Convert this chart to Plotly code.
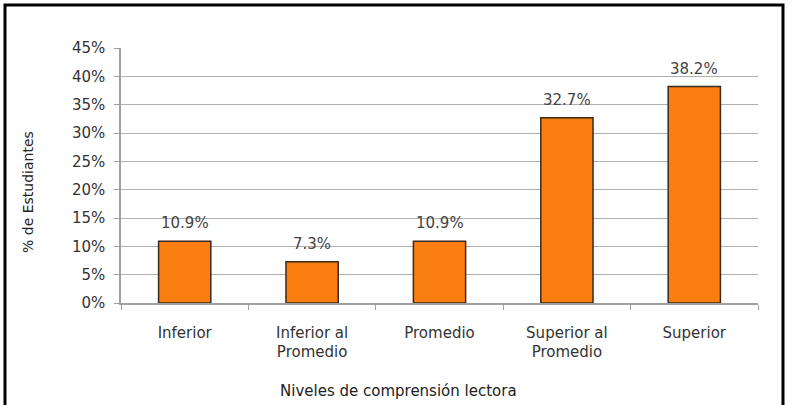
import plotly.graph_objects as go

categories = ["Inferior", "Inferior al<br>Promedio", "Promedio", "Superior al<br>Promedio", "Superior"]
values = [10.9, 7.3, 10.9, 32.7, 38.2]
labels = ["10.9%", "7.3%", "10.9%", "32.7%", "38.2%"]
y_ticks = [0, 5, 10, 15, 20, 25, 30, 35, 40, 45]
y_ticktext = [f"{t}%" for t in y_ticks]

L, R, T, B = 121, 41, 48, 102
W, H = 799, 405
pw, ph = W - L - R, H - T - B
FONT = "DejaVu Sans, Liberation Sans, Arial"

def px(x):
    return (x - L) / pw

def py(y):
    return (H - B - y) / ph

fig = go.Figure(go.Bar(
    x=categories, y=values,
    marker=dict(color="#FA7D10", line=dict(color="#3a2a1a", width=1.5)),
    width=0.41,
))

annotations = [
    dict(x=c, y=v, text=t, xref="x", yref="y", showarrow=False,
         yanchor="bottom", yshift=7, font=dict(size=15, color="#444", family=FONT))
    for c, v, t in zip(categories, values, labels)
]
annotations += [
    dict(text="Niveles de comprensión lectora", xref="paper", yref="paper",
         x=px(398), y=py(391), xanchor="center", yanchor="middle", showarrow=False,
         font=dict(size=15, color="#222", family=FONT)),
    dict(text="% de Estudiantes", xref="paper", yref="paper", textangle=-90,
         x=px(28), y=py(192), xanchor="center", yanchor="middle", showarrow=False,
         font=dict(size=14, color="#222", family=FONT)),
]

fig.update_layout(
    width=W, height=H, margin=dict(l=L, r=R, t=T, b=B),
    paper_bgcolor="white", plot_bgcolor="white", showlegend=False,
    font=dict(family=FONT, size=15, color="#333"),
    xaxis=dict(showline=True, linecolor="#a0a0a0", linewidth=1.5,
               ticks="outside", tickson="boundaries", ticklen=5, tickcolor="#a0a0a0",
               ticklabelstandoff=15,
               tickfont=dict(size=15, color="#333", family=FONT), showgrid=False),
    yaxis=dict(range=[0, 45], tickvals=y_ticks, ticktext=y_ticktext,
               showline=True, linecolor="#a0a0a0", linewidth=1.5,
               ticks="outside", ticklen=5, tickcolor="#a0a0a0",
               ticklabelstandoff=6,
               showgrid=True, gridcolor="#b0b0b0", gridwidth=1,
               tickfont=dict(size=15, color="#333", family=FONT), zeroline=False),
    annotations=annotations,
    shapes=[dict(type="rect", xref="paper", yref="paper",
                 x0=px(5), x1=px(783), y0=py(415), y1=py(5),
                 line=dict(color="black", width=3), fillcolor="rgba(0,0,0,0)")],
)

fig.write_html("out.html")
